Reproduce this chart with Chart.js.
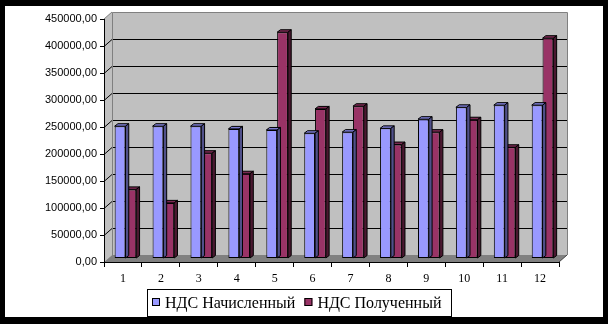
<!DOCTYPE html>
<html>
<head>
<meta charset="utf-8">
<script src="https://cdn.jsdelivr.net/npm/chart.js@4.4.0/dist/chart.umd.min.js"></script>
<style>
body{margin:0;background:#000}
canvas{display:block}
</style>
</head>
<body>
<canvas id="nds" width="608" height="324"></canvas>
<script>
var months = ['1','2','3','4','5','6','7','8','9','10','11','12'];
var ndsCharged = [245000,245000,245000,240000,238000,232000,234000,241000,258000,280000,284000,284000];
var ndsReceived = [128000,103000,195000,157000,419000,277000,282000,211000,234000,257000,206000,408000];
var seriesNames = ['НДС Начисленный','НДС Полученный'];
var yMax = 450000, yStep = 50000;

var frontCol = ['#9999ff','#993366'];
var topCol = ['#7b7bd0','#7a2952'];
var sideCol = ['#50508a','#4a1830'];

var dx = 8, dy = 7;      // depth of the walls
var bx = 2.5, by = 3.5;  // bars sit a bit back from the front plane
var bdx = 3.3, bdy = 2.5; // depth of a bar

function poly(c, pts, fill, stroke){
    c.beginPath();
    c.moveTo(pts[0][0], pts[0][1]);
    for(var i=1;i<pts.length;i++) c.lineTo(pts[i][0], pts[i][1]);
    c.closePath();
    if(fill){ c.fillStyle=fill; c.fill(); }
    if(stroke){ c.strokeStyle=stroke; c.lineWidth=1; c.stroke(); }
}

var walls = {
    id: 'walls',
    beforeDraw: function(chart){
        var c = chart.ctx, a = chart.chartArea, ys = chart.scales.y;
        c.save();
        c.fillStyle='#000'; c.fillRect(0,0,608,324);
        c.fillStyle='#fff'; c.fillRect(5,6,598,311);
        var L=a.left, R=a.right, T=a.top, B=a.bottom;
        // back wall
        poly(c, [[L+dx,T-dy],[R+dx,T-dy],[R+dx,B-dy],[L+dx,B-dy]], '#c0c0c0', null);
        // side wall
        poly(c, [[L,T],[L+dx,T-dy],[L+dx,B-dy],[L,B]], '#c0c0c0', null);
        // floor
        poly(c, [[L,B],[L+dx,B-dy],[R+dx,B-dy],[R,B]], '#808080', null);
        c.lineWidth=1;
        for(var v=yStep; v<yMax; v+=yStep){
            var y = Math.round(ys.getPixelForValue(v))+0.5;
            c.strokeStyle='#000';
            c.beginPath();
            c.moveTo(L, y); c.lineTo(L+dx, y-dy); c.lineTo(R+dx, y-dy);
            c.stroke();
        }
        // wall outlines
        c.strokeStyle='#808080';
        c.beginPath();
        c.moveTo(L+dx+0.5, B-dy); c.lineTo(L+dx+0.5, T-dy+0.5); c.lineTo(R+dx+0.5, T-dy+0.5); c.lineTo(R+dx+0.5, B-dy);
        c.moveTo(L, T); c.lineTo(L+dx, T-dy);
        c.stroke();
        c.strokeStyle='#404040';
        c.beginPath();
        c.moveTo(R, B); c.lineTo(R+dx, B-dy);
        c.stroke();
        c.restore();
    },
    beforeDatasetsDraw: function(chart){
        chart.ctx.save();
        chart.ctx.translate(bx, -by);
    },
    afterDatasetDraw: function(chart, args){
        var c = chart.ctx, i = args.index;
        args.meta.data.forEach(function(el){
            var p = el.getProps(['x','y','width','base'], true);
            var l = p.x - p.width/2, r = p.x + p.width/2, t = p.y, b = p.base;
            poly(c, [[l,t],[l+bdx,t-bdy],[r+bdx,t-bdy],[r,t]], topCol[i], '#000');
            poly(c, [[r,t],[r+bdx,t-bdy],[r+bdx,b-bdy],[r,b]], sideCol[i], '#000');
        });
    },
    afterDatasetsDraw: function(chart){
        chart.ctx.restore();
    },
    afterDraw: function(chart){
        // legend with a frame
        var c = chart.ctx;
        c.save();
        c.font = '16px "Liberation Serif"';
        c.textBaseline = 'alphabetic';
        var box = 8, gap1 = 5, gap2 = 9;
        var bl = 147, br = 451, bt = 289, bb = 316;
        c.fillStyle='#fff';
        c.fillRect(bl, bt, br-bl, bb-bt);
        c.strokeStyle='#000'; c.lineWidth=1;
        c.strokeRect(bl+0.5, bt+0.5, br-bl, bb-bt);
        var x = bl + 5;
        seriesNames.forEach(function(n, k){
            c.fillStyle = frontCol[k];
            c.fillRect(x, 298, box, box);
            c.strokeStyle='#000';
            c.strokeRect(x+0.5, 298.5, box-1, box-1);
            x += box + gap1;
            c.fillStyle='#000';
            c.fillText(n, x, 308);
            x += c.measureText(n).width + gap2;
        });
        c.restore();
    }
};

var chart = new Chart(document.getElementById('nds').getContext('2d'), {
    type: 'bar',
    data: {
        labels: months,
        datasets: [{
            label: seriesNames[0],
            data: ndsCharged,
            backgroundColor: frontCol[0],
            borderColor: '#000',
            borderWidth: 1,
            borderSkipped: false
        },{
            label: seriesNames[1],
            data: ndsReceived,
            backgroundColor: frontCol[1],
            borderColor: '#000',
            borderWidth: 1,
            borderSkipped: false
        }]
    },
    options: {
        responsive: false,
        animation: false,
        layout: { padding: { left: 5, top: 19, right: 49, bottom: 36 } },
        datasets: { bar: { categoryPercentage: 0.57, barPercentage: 1.0 } },
        plugins: {
            legend: { display: false },
            tooltip: { enabled: false }
        },
        scales: {
            x: {
                grid: { drawOnChartArea: false, tickLength: 5, color: '#000', offset: true },
                border: { color: '#000' },
                ticks: { color: '#000', padding: 5, maxRotation: 0, font: { family: 'Liberation Serif', size: 12 } },
                afterFit: function(s){ s.height = 26; }
            },
            y: {
                min: 0,
                max: yMax,
                grid: { drawOnChartArea: false, tickLength: 4, color: '#000' },
                border: { color: '#000' },
                ticks: {
                    stepSize: yStep,
                    color: '#000',
                    padding: 3,
                    font: { family: 'Liberation Sans', size: 11 },
                    callback: function(v){ return v + ',00'; }
                },
                afterFit: function(s){ s.width = 99; }
            }
        }
    },
    plugins: [walls]
});
</script>
</body>
</html>
